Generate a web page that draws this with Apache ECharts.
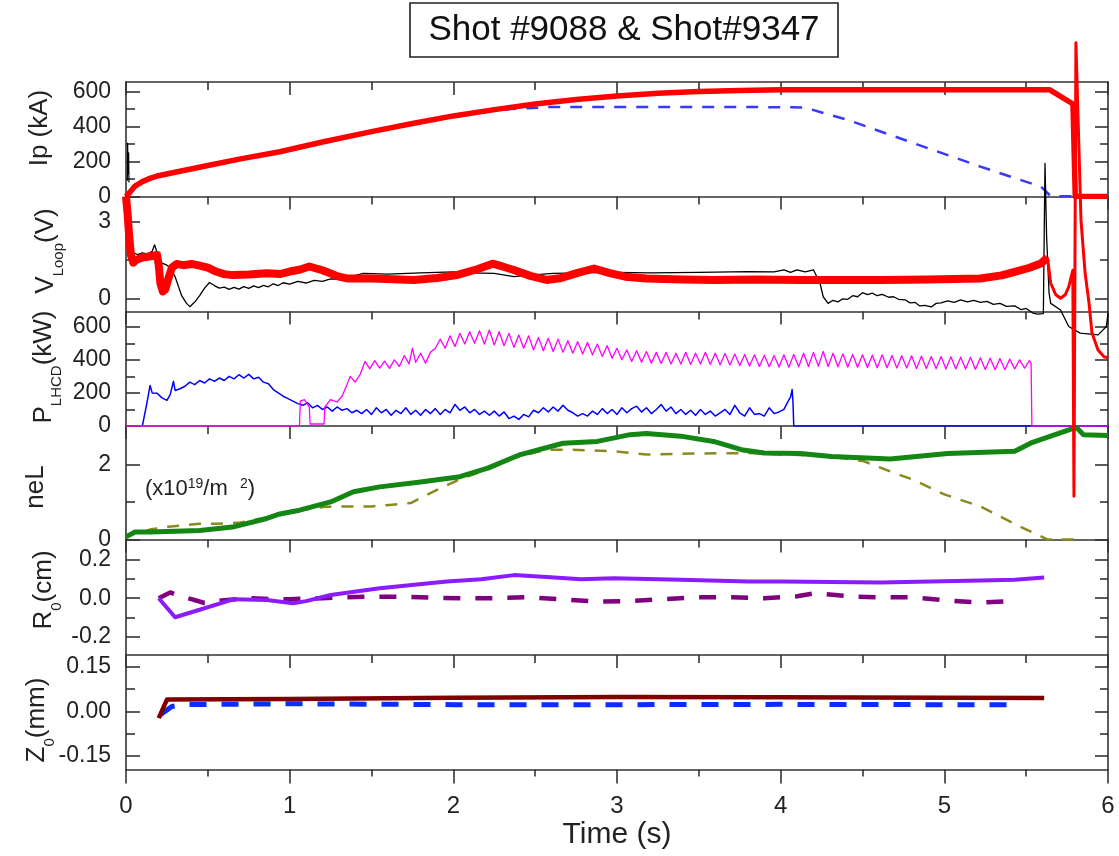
<!DOCTYPE html>
<html>
<head>
<meta charset="utf-8">
<script src="https://cdn.jsdelivr.net/npm/echarts@6/dist/echarts.min.js"></script>
<style>
html,body{margin:0;padding:0;background:#fff;}
#chart{width:1119px;height:856px;}
</style>
</head>
<body>
<div id="chart"></div>
<script>
// ---------------- tick values ----------------
const timeTicks = [0, 1, 2, 3, 4, 5, 6];
const timeMinorTicks = [0.5, 1.5, 2.5, 3.5, 4.5, 5.5];
const ipTicks = [0, 200, 400, 600];
const ipMinorTicks = [100, 300, 500];
const vTicks = [0, 3];
const vMinorTicks = [1.5];
const pTicks = [0, 200, 400, 600];
const pMinorTicks = [100, 300, 500];
const nTicks = [0, 2];
const nMinorTicks = [1];
const rTicks = [-0.2, 0, 0.2];
const rMinorTicks = [-0.1, 0.1];
const zTicks = [-0.15, 0, 0.15];
const zMinorTicks = [-0.075, 0.075];

// ---------------- series data [time (s), value] ----------------
// Ip (kA)
const ipRed = [[0,0],[0.02,20],[0.055,60],[0.1,85],[0.15,105],[0.19,117],[0.3,139],[0.5,177],[0.7,215],[0.94,256],[1.2,312],[1.5,371],[1.75,418],[2.0,461],[2.25,497],[2.5,529],[2.75,555],[3.0,575],[3.25,590],[3.5,600],[3.75,606],[4.0,610],[4.5,611],[5.0,611],[5.4,611],[5.645,610],[5.786,529],[5.80,0],[6.0,0]];
const ipBlueDash = [[0.2,118],[0.5,177],[1.0,268],[1.5,371],[2.0,461],[2.3,497],[2.59,512],[3.0,512],[3.5,512],[4.07,511],[4.15,508],[4.41,438],[4.81,306],[5.22,171],[5.59,56],[5.65,2],[5.9,0]];
const ipBlackSpike = [[0.008,90],[0.01,305],[0.013,130],[0.016,250],[0.018,80]];
// V_Loop (V): main noisy band, then the disruption tail
const vloopRed = [[0,4.0],[0.01,3.3],[0.02,2.4],[0.03,1.7],[0.045,1.4],[0.06,1.5],[0.1,1.6],[0.15,1.65],[0.19,1.7],[0.2,1.3],[0.21,0.6],[0.225,0.27],[0.24,0.35],[0.26,0.8],[0.28,1.2],[0.31,1.35],[0.35,1.3],[0.4,1.35],[0.45,1.28],[0.5,1.2],[0.55,1.05],[0.6,0.95],[0.65,0.91],[0.75,0.93],[0.86,0.98],[0.94,0.95],[1.0,1.05],[1.06,1.12],[1.12,1.25],[1.2,1.1],[1.3,0.85],[1.35,0.78],[1.5,0.78],[1.76,0.72],[1.9,0.8],[2.02,0.91],[2.15,1.15],[2.24,1.36],[2.3,1.25],[2.37,1.11],[2.47,0.88],[2.57,0.72],[2.66,0.8],[2.76,1.0],[2.86,1.17],[2.95,1.0],[3.05,0.85],[3.18,0.78],[3.4,0.74],[3.59,0.72],[3.85,0.74],[4.12,0.72],[4.35,0.72],[4.61,0.72],[4.9,0.74],[5.22,0.78],[5.35,0.9],[5.43,1.04],[5.52,1.2],[5.59,1.37],[5.63,1.6]];
const vloopRedTail = [[5.63,1.6],[5.65,0.59],[5.68,0.15],[5.71,0.0],[5.74,0.15],[5.76,0.45],[5.785,1.1],[5.792,-7.78],[5.804,10.04],[5.835,3.07],[5.86,1.0],[5.884,-0.18],[5.902,-1.36],[5.939,-2.03],[5.976,-2.3],[6.0,-2.34]];
const vloopBlack = [[0.005,4.0],[0.02,3.0],[0.03,2.2],[0.04,1.8],[0.07,1.72],[0.1,1.78],[0.13,1.74],[0.16,1.85],[0.175,2.1],[0.185,1.9],[0.19,1.45],[0.22,1.38],[0.25,1.3],[0.27,1.2],[0.3,0.85],[0.34,0.1],[0.37,-0.2],[0.39,-0.33],[0.42,-0.15],[0.45,0.1],[0.48,0.4],[0.51,0.62],[0.54,0.5],[0.57,0.4],[0.6,0.44],[0.63,0.35],[0.66,0.43],[0.69,0.36],[0.72,0.46],[0.75,0.39],[0.78,0.49],[0.81,0.42],[0.84,0.51],[0.87,0.45],[0.9,0.57],[0.93,0.5],[0.96,0.61],[1.0,0.56],[1.05,0.66],[1.1,0.6],[1.15,0.7],[1.2,0.66],[1.25,0.76],[1.31,0.74],[1.45,0.98],[1.6,0.95],[1.8,1.0],[2.0,1.04],[2.1,1.0],[2.25,0.98],[2.37,0.85],[2.45,0.9],[2.61,0.98],[2.8,1.0],[3.0,1.02],[3.2,1.0],[3.5,1.02],[3.8,1.05],[3.96,1.04],[4.02,1.12],[4.06,1.02],[4.1,1.12],[4.15,1.04],[4.2,1.12],[4.24,0.6],[4.26,0.06],[4.29,-0.2],[4.32,-0.08],[4.35,-0.14],[4.38,-0.02],[4.41,-0.04],[4.44,0.1],[4.47,0.06],[4.5,0.22],[4.53,0.14],[4.56,0.2],[4.59,0.1],[4.62,0.15],[4.66,0.04],[4.69,0.06],[4.72,-0.04],[4.76,-0.06],[4.79,-0.18],[4.82,-0.16],[4.85,-0.3],[4.88,-0.28],[4.92,-0.34],[4.95,-0.2],[4.98,-0.18],[5.02,-0.1],[5.06,-0.16],[5.1,-0.06],[5.14,-0.14],[5.18,-0.08],[5.22,-0.16],[5.26,-0.12],[5.3,-0.24],[5.34,-0.2],[5.38,-0.32],[5.43,-0.3],[5.47,-0.45],[5.5,-0.4],[5.54,-0.58],[5.57,-0.62],[5.605,-0.6],[5.615,5.3],[5.625,2.4],[5.64,0.2],[5.65,-0.2],[5.71,-0.46],[5.76,-1.11],[5.83,-1.37],[5.94,-1.44],[5.99,-1.11],[6.0,-0.59]];
// P_LHCD (kW)
const plhcdBlue = [[0.10,0],[0.11,0],[0.13,150],[0.147,245],[0.16,200],[0.19,198],[0.22,170],[0.25,155],[0.27,190],[0.29,270],[0.30,215],[0.33,225],[0.36,240],[0.39,265],[0.42,250],[0.45,275],[0.48,260],[0.51,285],[0.54,270],[0.57,290],[0.60,275],[0.63,300],[0.66,285],[0.69,310],[0.72,290],[0.75,312],[0.78,285],[0.81,295],[0.84,265],[0.87,255],[0.90,220],[0.93,200],[0.96,180],[0.99,165],[1.02,150],[1.05,135],[1.08,125],[1.11,140],[1.14,110],[1.17,125],[1.20,100],[1.23,115],[1.26,90],[1.29,115],[1.32,95],[1.35,105],[1.38,80],[1.41,95],[1.44,75],[1.47,100],[1.50,70],[1.53,110],[1.56,80],[1.59,100],[1.62,65],[1.65,95],[1.68,75],[1.71,110],[1.74,70],[1.77,95],[1.80,65],[1.83,100],[1.86,75],[1.89,105],[1.92,70],[1.95,100],[1.98,80],[2.01,130],[2.04,95],[2.07,115],[2.10,80],[2.13,100],[2.16,70],[2.19,90],[2.22,65],[2.25,90],[2.28,60],[2.31,85],[2.34,45],[2.37,60],[2.40,40],[2.43,70],[2.46,55],[2.49,95],[2.52,80],[2.55,110],[2.58,85],[2.61,115],[2.64,90],[2.67,125],[2.70,95],[2.73,80],[2.76,60],[2.79,75],[2.82,60],[2.85,90],[2.88,70],[2.91,105],[2.94,75],[2.97,100],[3.00,70],[3.03,110],[3.06,80],[3.09,105],[3.12,120],[3.15,85],[3.18,110],[3.21,75],[3.24,100],[3.27,130],[3.30,90],[3.33,115],[3.36,75],[3.39,100],[3.42,70],[3.45,95],[3.48,65],[3.51,100],[3.54,70],[3.57,90],[3.60,60],[3.63,80],[3.66,100],[3.69,70],[3.72,125],[3.75,80],[3.78,60],[3.81,110],[3.84,70],[3.87,75],[3.90,60],[3.93,110],[3.96,75],[3.99,85],[4.02,100],[4.04,140],[4.06,175],[4.07,220],[4.075,150],[4.08,0],[6.0,0]];
const plhcdMagenta = [[0,0],[1.06,0],[1.065,150],[1.09,160],[1.12,115],[1.125,12],[1.21,12],[1.215,115],[1.25,160],[1.29,145],[1.32,180],[1.35,250],[1.37,300],[1.40,265],[1.43,310],[1.46,390],[1.49,345],[1.52,395],[1.55,350],[1.58,392],[1.61,348],[1.64,400],[1.67,360],[1.70,425],[1.73,375],[1.75,470],[1.77,385],[1.80,440],[1.83,380],[1.86,445],[1.89,470],[1.92,525],[1.95,470],[1.98,545],[2.01,480],[2.04,560],[2.07,495],[2.10,570],[2.13,500],[2.16,575],[2.19,495],[2.22,580],[2.25,490],[2.28,570],[2.31,485],[2.34,560],[2.37,475],[2.40,550],[2.43,470],[2.46,545],[2.49,460],[2.52,535],[2.55,455],[2.58,530],[2.61,450],[2.64,525],[2.67,445],[2.70,515],[2.73,440],[2.76,510],[2.79,435],[2.82,505],[2.85,430],[2.88,495],[2.91,420],[2.94,485],[2.97,410],[3.00,470],[3.03,400],[3.06,460],[3.09,390],[3.12,455],[3.15,385],[3.18,450],[3.21,380],[3.24,445],[3.27,378],[3.30,445],[3.33,375],[3.36,440],[3.39,375],[3.42,445],[3.45,372],[3.48,440],[3.51,375],[3.54,445],[3.57,372],[3.60,440],[3.63,370],[3.66,438],[3.69,368],[3.72,435],[3.75,365],[3.78,432],[3.81,362],[3.84,430],[3.87,360],[3.90,428],[3.93,358],[3.96,426],[3.99,356],[4.02,430],[4.05,355],[4.08,432],[4.11,358],[4.14,440],[4.17,360],[4.20,445],[4.23,362],[4.26,450],[4.29,360],[4.32,440],[4.35,358],[4.38,436],[4.41,356],[4.44,432],[4.47,355],[4.50,430],[4.53,354],[4.56,428],[4.59,352],[4.62,430],[4.65,352],[4.68,426],[4.71,350],[4.74,425],[4.77,350],[4.80,424],[4.83,348],[4.86,422],[4.89,348],[4.92,420],[4.95,346],[4.98,420],[5.01,345],[5.04,418],[5.07,345],[5.10,416],[5.13,344],[5.16,415],[5.19,342],[5.22,412],[5.25,342],[5.28,410],[5.31,340],[5.34,408],[5.37,340],[5.40,405],[5.43,345],[5.46,400],[5.49,350],[5.52,395],[5.53,380],[5.535,0],[6.0,0]];
// neL (x10^19 m^-2)
const nelGreen = [[0,0.07],[0.055,0.2],[0.15,0.2],[0.45,0.24],[0.65,0.33],[0.86,0.56],[0.94,0.68],[1.06,0.78],[1.25,1.0],[1.39,1.27],[1.55,1.4],[1.8,1.53],[2.04,1.67],[2.21,1.9],[2.41,2.26],[2.67,2.56],[2.88,2.61],[3.08,2.79],[3.18,2.82],[3.39,2.75],[3.59,2.61],[3.76,2.39],[3.9,2.3],[4.12,2.29],[4.31,2.21],[4.67,2.14],[5.02,2.29],[5.43,2.35],[5.53,2.57],[5.77,2.93],[5.81,2.97],[5.85,2.79],[6.0,2.77]];
const nelOliveDash = [[0.12,0.22],[0.15,0.27],[0.26,0.34],[0.45,0.42],[0.55,0.42],[0.7,0.45],[0.9,0.62],[1.1,0.8],[1.22,0.87],[1.35,0.88],[1.5,0.88],[1.61,0.92],[1.74,0.97],[1.9,1.32],[2.06,1.64],[2.21,1.86],[2.37,2.17],[2.57,2.39],[2.72,2.39],[2.98,2.35],[3.18,2.26],[3.49,2.29],[3.8,2.3],[4.31,2.21],[4.51,2.08],[4.67,1.81],[4.81,1.59],[5.0,1.2],[5.22,0.88],[5.46,0.35],[5.63,0],[5.8,0]];
// R0 (cm)
const r0Violet = [[0.2,0],[0.3,-0.099],[0.45,-0.06],[0.66,-0.005],[0.86,-0.009],[1.02,-0.026],[1.1,-0.015],[1.25,0.017],[1.55,0.052],[1.96,0.087],[2.17,0.099],[2.37,0.12],[2.57,0.11],[2.78,0.099],[2.98,0.104],[3.39,0.096],[3.8,0.087],[4.0,0.087],[4.61,0.082],[5.22,0.092],[5.43,0.096],[5.61,0.108]];
const r0PurpleDash = [[0.2,0],[0.27,0.03],[0.33,0.01],[0.4,-0.005],[0.48,-0.025],[0.6,-0.01],[0.75,0],[0.9,-0.005],[1.0,-0.005],[1.2,0],[1.45,0.008],[1.65,0.008],[1.85,0.003],[2.05,0],[2.25,0],[2.45,0.005],[2.65,-0.005],[2.9,-0.018],[3.1,-0.014],[3.3,-0.004],[3.5,0.005],[3.7,0.005],[3.9,0],[4.1,0.01],[4.21,0.026],[4.45,0.008],[4.61,0.005],[4.8,0.005],[5.02,-0.012],[5.22,-0.023],[5.43,-0.014]];
// Z0 (mm)
const z0DarkRed = [[0.2,-0.022],[0.25,0.04],[1.0,0.042],[2.0,0.046],[3.0,0.049],[4.0,0.048],[5.0,0.046],[5.61,0.045]];
const z0BlueDash = [[0.21,-0.011],[0.28,0.017],[0.35,0.023],[1.0,0.026],[2.0,0.023],[3.0,0.023],[4.0,0.024],[5.0,0.023],[5.47,0.023]];

// ---------------- layout ----------------
const FONT = '"Liberation Sans", Arial, Helvetica, sans-serif';
const AX = '#333333';
const panels = [
  {top: 82,    height: 114.5, min: 0,      max: 655,   ticks: ipTicks, minor: ipMinorTicks, dec: 0},
  {top: 196.5, height: 115,   min: -0.52,  max: 4.0,   ticks: vTicks,  minor: vMinorTicks,  dec: 0},
  {top: 311.5, height: 114.5, min: 0,      max: 692,   ticks: pTicks,  minor: pMinorTicks,  dec: 0},
  {top: 426,   height: 113.5, min: 0,      max: 3.02,  ticks: nTicks,  minor: nMinorTicks,  dec: 0},
  {top: 539.5, height: 115.5, min: -0.295, max: 0.305, ticks: rTicks,  minor: rMinorTicks,  dec: 1},
  {top: 655,   height: 114.5, min: -0.195, max: 0.19,  ticks: zTicks,  minor: zMinorTicks,  dec: 2}
];

const grids = panels.map(p => ({left: 126, right: 11, top: p.top, height: p.height, outerBoundsMode: 'none'}));

const xAxes = [];
const yAxes = [];
function axisBase(extra) {
  return Object.assign({
    type: 'value', splitLine: {show: false}, minorTick: {show: false},
    axisLabel: {show: false}, animation: false
  }, extra);
}
panels.forEach((p, i) => {
  xAxes.push(axisBase({gridIndex: i, min: 0, max: 6, position: 'top',
    axisLine: {show: true, onZero: false, lineStyle: {color: AX, width: 1.6}},
    axisTick: {show: true, inside: true, length: 13, customValues: timeTicks, lineStyle: {color: AX, width: 1.6}}}));
  xAxes.push(axisBase({gridIndex: i, min: 0, max: 6, position: 'top',
    axisLine: {show: false, onZero: false},
    axisTick: {show: true, inside: true, length: 8, customValues: timeMinorTicks, lineStyle: {color: AX, width: 1.6}}}));
  const dec = p.dec;
  yAxes.push(axisBase({gridIndex: i, min: p.min, max: p.max, position: 'left',
    axisLine: {show: true, onZero: false, lineStyle: {color: AX, width: 1.6}},
    axisTick: {show: true, inside: true, length: 14, customValues: p.ticks, lineStyle: {color: AX, width: 1.6}},
    axisLabel: {show: true, customValues: p.ticks, margin: 15, fontSize: 23, fontFamily: FONT, color: '#222',
      formatter: v => (Math.abs(v) < 1e-9 ? 0 : v).toFixed(dec)}}));
  yAxes.push(axisBase({gridIndex: i, min: p.min, max: p.max, position: 'left',
    axisLine: {show: false, onZero: false},
    axisTick: {show: true, inside: true, length: 9, customValues: p.minor, lineStyle: {color: AX, width: 1.6}}}));
  yAxes.push(axisBase({gridIndex: i, min: p.min, max: p.max, position: 'right',
    axisLine: {show: true, onZero: false, lineStyle: {color: AX, width: 1.6}},
    axisTick: {show: true, inside: true, length: 13, customValues: p.ticks, lineStyle: {color: AX, width: 1.6}}}));
  yAxes.push(axisBase({gridIndex: i, min: p.min, max: p.max, position: 'right',
    axisLine: {show: false, onZero: false},
    axisTick: {show: true, inside: true, length: 8, customValues: p.minor, lineStyle: {color: AX, width: 1.6}}}));
});
// bottom time axis
xAxes.push(axisBase({gridIndex: 5, min: 0, max: 6, position: 'bottom',
  axisLine: {show: true, onZero: false, lineStyle: {color: AX, width: 1.6}},
  axisTick: {show: true, inside: false, length: 14, customValues: timeTicks, lineStyle: {color: AX, width: 1.6}},
  axisLabel: {show: true, customValues: timeTicks, margin: 25, fontSize: 24, fontFamily: FONT, color: '#222'},
  name: 'Time (s)', nameLocation: 'middle', nameGap: 50,
  nameTextStyle: {fontSize: 30, fontFamily: FONT, color: '#222', verticalAlign: 'top'}}));
xAxes.push(axisBase({gridIndex: 5, min: 0, max: 6, position: 'bottom',
  axisLine: {show: false, onZero: false},
  axisTick: {show: true, inside: false, length: 7, customValues: timeMinorTicks, lineStyle: {color: AX, width: 1.6}}}));

function line(panel, data, color, width, dash, extra) {
  return Object.assign({
    type: 'line', xAxisIndex: panel * 2, yAxisIndex: panel * 4, data: data,
    showSymbol: false, symbol: 'none', silent: true, animation: false, smooth: false,
    lineStyle: {color: color, width: width, type: dash || 'solid', cap: 'butt', join: 'round'},
    z: 3
  }, extra || {});
}

const series = [
  line(0, ipBlueDash, '#3838ff', 2.5, [12, 10]),
  line(0, ipBlackSpike, '#000000', 1.2),
  line(0, ipRed, '#ff0000', 5.5, null, {z: 4}),
  line(1, vloopBlack, '#000000', 1.3, null, {clip: false, z: 5}),
  line(1, vloopRed, '#ff0000', 8, null, {clip: false, z: 6}),
  line(1, vloopRedTail, '#ff0000', 3, null, {clip: false, z: 6}),
  line(2, plhcdBlue, '#0000ff', 1.5),
  line(2, plhcdMagenta, '#ff00ff', 1.3, null, {z: 4}),
  line(3, nelOliveDash, '#8a8a1e', 2.5, [12, 10]),
  line(3, nelGreen, '#138613', 5, null, {z: 4}),
  line(4, r0PurpleDash, '#800080', 4.5, [17, 15]),
  line(4, r0Violet, '#8a1cff', 4, null, {z: 4}),
  line(5, z0BlueDash, '#0a2cff', 5, [17, 15]),
  line(5, z0DarkRed, '#800000', 4.5, null, {z: 4})
];

function vName(x, y, text, rich) {
  return {type: 'text', x: x, y: y, rotation: Math.PI / 2, z: 10,
    style: {text: text, rich: rich, fontSize: 26, fontFamily: FONT, fill: '#222',
      align: 'center', verticalAlign: 'middle', textAlign: 'center', textVerticalAlign: 'middle'}};
}
const subRich = {
  m: {fontSize: 26, fontFamily: FONT, fill: '#222'},
  s: {fontSize: 15, fontFamily: FONT, fill: '#222', verticalAlign: 'bottom', padding: [25, 0, 0, 0]}
};

const graphic = [
  {type: 'rect', shape: {x: 410, y: 3, width: 428, height: 54}, z: 10,
    style: {fill: '#ffffff', stroke: '#222', lineWidth: 1.6}},
  {type: 'text', x: 624, y: 30, z: 11,
    style: {text: 'Shot #9088 & Shot#9347', fontSize: 35, fontFamily: FONT, fill: '#111',
      align: 'center', verticalAlign: 'middle', textAlign: 'center', textVerticalAlign: 'middle'}},
  vName(40, 128, 'Ip (kA)'),
  vName(46, 251, '{m|V}{s|Loop}{m|(V)}', subRich),
  vName(44, 367, '{m|P}{s|LHCD}{m|(kW)}', subRich),
  vName(36, 487, 'neL'),
  vName(44, 590, '{m|R}{s|0}{m|(cm)}', subRich),
  vName(37, 720, '{m|Z}{s|0}{m|(mm)}', subRich),
  {type: 'text', x: 145, y: 489, z: 10,
    style: {text: '{m|(x10}{p|19}{m|/m  }{p|2}{m|)}',
      rich: {m: {fontSize: 22, fontFamily: FONT, fill: '#222'},
             p: {fontSize: 14, fontFamily: FONT, fill: '#222', verticalAlign: 'top', padding: [0, 0, 10, 0]}},
      align: 'left', verticalAlign: 'middle', textAlign: 'left', textVerticalAlign: 'middle'}}
];

const chart = echarts.init(document.getElementById('chart'), null, {renderer: 'canvas'});
chart.setOption({
  animation: false,
  backgroundColor: '#ffffff',
  textStyle: {fontFamily: FONT},
  grid: grids,
  xAxis: xAxes,
  yAxis: yAxes,
  series: series,
  graphic: graphic
});
</script>
</body>
</html>
